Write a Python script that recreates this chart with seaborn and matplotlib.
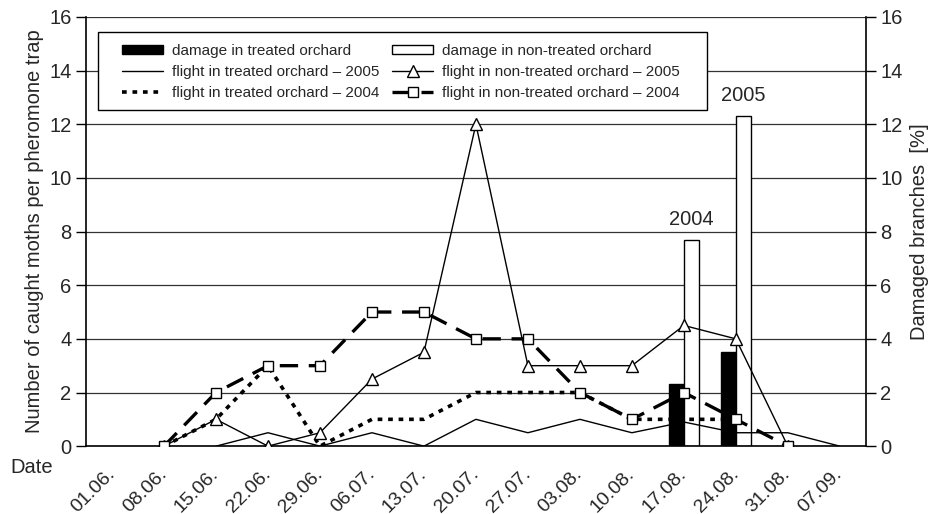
import numpy as np
import pandas as pd
import matplotlib
matplotlib.use("Agg")
import matplotlib.pyplot as plt
from matplotlib.patches import Patch, Rectangle
from matplotlib.ticker import FixedLocator
from matplotlib.transforms import ScaledTranslation
import seaborn as sns

# --- data ---
dates = ["01.06.", "08.06.", "15.06.", "22.06.", "29.06.", "06.07.", "13.07.",
         "20.07.", "27.07.", "03.08.", "10.08.", "17.08.", "24.08.", "31.08.", "07.09."]
nan = np.nan
flight_treated_2005 = [nan, nan, 0, 0.5, 0, 0.5, 0, 1, 0.5, 1, 0.5, 0.9, 0.5, 0.5, 0]
flight_treated_2004 = [nan, 0, 1, 3, 0, 1, 1, 2, 2, 2, 1, 1, 1, nan, nan]
flight_nontreated_2005 = [nan, 0, 1, 0, 0.5, 2.5, 3.5, 12, 3, 3, 3, 4.5, 4, 0, nan]
flight_nontreated_2004 = [nan, 0, 2, 3, 3, 5, 5, 4, 4, 2, 1, 2, 1, 0, nan]

damage_dates = ["17.08.", "24.08."]
damage_years = ["2004", "2005"]
damage_treated = [2.3, 3.5]
damage_nontreated = [7.7, 12.3]

sns.set_style("white")
plt.rcParams["font.family"] = ["Liberation Sans", "DejaVu Sans"]
plt.rcParams["axes.unicode_minus"] = False

fig = plt.figure(figsize=(9.35, 5.14), dpi=100)
ax = fig.add_axes([0.092, 0.132, 0.834, 0.835])

x = np.arange(len(dates))
bar_width = 0.577

bars = pd.DataFrame({
    "date": damage_dates * 2,
    "orchard": ["treated"] * 2 + ["non-treated"] * 2,
    "value": damage_treated + damage_nontreated,
})
sns.barplot(data=bars, x="date", y="value", hue="orchard", order=dates,
            hue_order=["treated", "non-treated"],
            palette={"treated": "black", "non-treated": "white"},
            width=bar_width, edgecolor="black", linewidth=1.0, legend=False,
            ax=ax, zorder=2)

# year labels above the non-treated bars
for d, yr, v in zip(damage_dates, damage_years, damage_nontreated):
    ax.text(dates.index(d) + bar_width / 4, v + 0.4, yr, ha="center", va="bottom",
            fontsize=14.5)

sns.lineplot(x=x, y=flight_treated_2005, color="black", lw=1.0,
             label="flight in treated orchard \u2013 2005", ax=ax, zorder=3)
sns.lineplot(x=x, y=flight_treated_2004, color="black", lw=2.6,
             linestyle=(0, (1.3, 1.6)),
             label="flight in treated orchard \u2013 2004", ax=ax, zorder=3)
sns.lineplot(x=x, y=flight_nontreated_2005, color="black", lw=1.0, marker="^",
             markersize=8, markerfacecolor="white", markeredgecolor="black",
             markeredgewidth=1.0,
             label="flight in non-treated orchard \u2013 2005", ax=ax, zorder=4)
sns.lineplot(x=x, y=flight_nontreated_2004, color="black", lw=2.4,
             linestyle=(0, (5.5, 3.2)), marker="s", markersize=7.5,
             markerfacecolor="white", markeredgecolor="black", markeredgewidth=1.0,
             label="flight in non-treated orchard \u2013 2004", ax=ax, zorder=4)

ax.set_xlim(-0.5, len(dates) - 0.5)
ax.set_ylim(0, 16)
ax.set_yticks(range(0, 17, 2))
ax.grid(axis="y", color="#333333", lw=0.9)
ax.set_axisbelow(True)
ax.set_xlabel("")
ax.set_ylabel("Number of caught moths per pheromone trap", fontsize=14.5, labelpad=4)

ax.set_xticks(x)
ax.set_xticklabels(dates, rotation=45, ha="right", va="center",
                   rotation_mode="anchor", fontsize=14)
shift = ScaledTranslation(-7 / 100, 0, fig.dpi_scale_trans)
for lab in ax.get_xticklabels():
    lab.set_transform(lab.get_transform() + shift)
ax.xaxis.set_minor_locator(FixedLocator(np.arange(-0.5, len(dates), 1)))
ax.tick_params(axis="x", which="major", length=0, pad=18)
ax.tick_params(axis="x", which="minor", length=7, width=1, color="black", direction="out")
ax.tick_params(axis="y", length=7, width=1, color="black", direction="out",
               labelsize=14.5, left=True)

for side in ["left", "right", "bottom"]:
    ax.spines[side].set_color("black")
    ax.spines[side].set_linewidth(1.2)
ax.spines["top"].set_visible(False)

ax2 = ax.twinx()
ax2.set_ylim(0, 16)
ax2.set_yticks(range(0, 17, 2))
ax2.tick_params(axis="y", length=7, width=1, color="black", direction="out",
                labelsize=14.5, right=True)
ax2.set_ylabel("Damaged branches  [%]", fontsize=14.5, labelpad=5)
for side in ["left", "right", "bottom", "top"]:
    ax2.spines[side].set_visible(False)

fig.text(0.011, 0.09, "Date", fontsize=14.5, ha="left", va="center")

# legend frame drawn as a plain box, legend entries placed inside it
ax.add_patch(Rectangle((0.0154, 0.783), 0.781, 0.182, transform=ax.transAxes,
                       facecolor="white", edgecolor="black", lw=1.0, zorder=9))

handles, labels = ax.get_legend_handles_labels()
lh = dict(zip(labels, handles))
leg_handles = [
    Patch(facecolor="black", edgecolor="black"),
    lh["flight in treated orchard \u2013 2005"],
    lh["flight in treated orchard \u2013 2004"],
    Patch(facecolor="white", edgecolor="black"),
    lh["flight in non-treated orchard \u2013 2005"],
    lh["flight in non-treated orchard \u2013 2004"],
]
leg_labels = [
    "damage in treated orchard",
    "flight in treated orchard \u2013 2005",
    "flight in treated orchard \u2013 2004",
    "damage in non-treated orchard",
    "flight in non-treated orchard \u2013 2005",
    "flight in non-treated orchard \u2013 2004",
]
leg = ax.legend(leg_handles, leg_labels, ncol=2, loc="upper left",
                bbox_to_anchor=(0.046, 0.937), fontsize=11, frameon=False,
                handlelength=2.7, handleheight=0.6, handletextpad=0.6,
                columnspacing=0.8, labelspacing=0.45, borderpad=0,
                borderaxespad=0)
leg.set_zorder(10)

fig.savefig("out.png", dpi=100)
